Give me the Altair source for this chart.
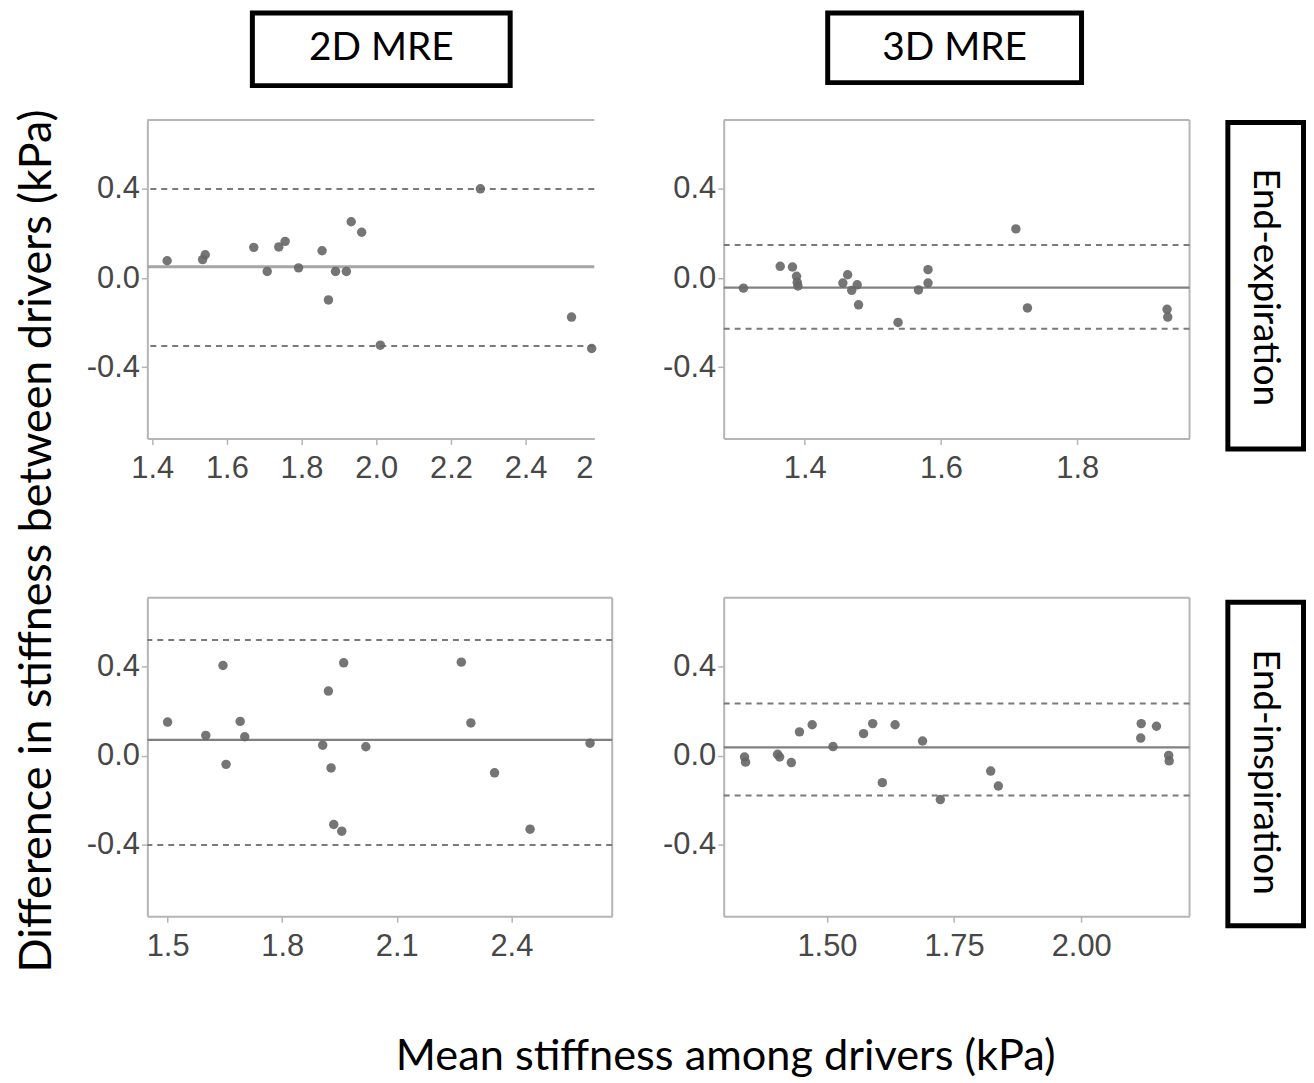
import altair as alt
import pandas as pd

# ---------------- data ----------------
# 2D MRE, End-expiration
tl_mean = [1.44, 1.535, 1.542, 1.672, 1.708, 1.739, 1.756, 1.792, 1.855, 1.872,
           1.891, 1.92, 1.933, 1.961, 2.011, 2.279, 2.523, 2.577]
tl_diff = [0.078, 0.083, 0.105, 0.138, 0.03, 0.14, 0.165, 0.046, 0.123, -0.098,
           0.03, 0.03, 0.253, 0.206, -0.301, 0.401, -0.175, -0.316]
tl_bias = [0.051]
tl_loa = [0.40, -0.305]

# 3D MRE, End-expiration
tr_mean = [1.310, 1.364, 1.382, 1.388, 1.389, 1.390, 1.456, 1.463, 1.469, 1.477,
           1.479, 1.537, 1.567, 1.581, 1.581, 1.710, 1.727, 1.932, 1.933]
tr_diff = [-0.045, 0.053, 0.05, 0.008, -0.019, -0.035, -0.022, 0.015, -0.055, -0.03,
           -0.12, -0.199, -0.053, 0.038, -0.022, 0.221, -0.134, -0.14, -0.175]
tr_bias = [-0.043]
tr_loa = [0.149, -0.227]

# 2D MRE, End-inspiration
bl_mean = [1.50, 1.60, 1.645, 1.653, 1.69, 1.702, 1.906, 1.921, 1.928, 1.935,
           1.956, 1.961, 2.019, 2.269, 2.294, 2.356, 2.449, 2.606]
bl_diff = [0.152, 0.092, 0.406, -0.038, 0.155, 0.086, 0.048, 0.291, -0.054, -0.308,
           -0.338, 0.418, 0.041, 0.421, 0.148, -0.076, -0.329, 0.057]
bl_bias = [0.072]
bl_loa = [0.52, -0.40]

# 3D MRE, End-inspiration
br_mean = [1.338, 1.340, 1.403, 1.407, 1.430, 1.446, 1.471, 1.512, 1.572, 1.590,
           1.609, 1.634, 1.688, 1.723, 1.822, 1.837, 2.117, 2.118, 2.148, 2.172, 2.173]
br_diff = [-0.005, -0.028, 0.007, -0.005, -0.03, 0.108, 0.14, 0.042, 0.1, 0.145,
           -0.12, 0.14, 0.067, -0.196, -0.068, -0.135, 0.08, 0.145, 0.133, 0.002, -0.022]
br_bias = [0.038]
br_loa = [0.235, -0.178]

# axes
tl_xdomain = [1.387, 2.584]
tr_xdomain = [1.281, 1.965]
bl_xdomain = [1.447, 2.664]
br_xdomain = [1.297, 2.213]
y_domain = [-0.72, 0.71]

tl_xticks = [1.4, 1.6, 1.8, 2.0, 2.2, 2.4, 2.557]
tl_xlabels = ["1.4", "1.6", "1.8", "2.0", "2.2", "2.4", "2"]
tr_xticks = [1.4, 1.6, 1.8]
tr_xlabels = ["1.4", "1.6", "1.8"]
bl_xticks = [1.5, 1.8, 2.1, 2.4]
bl_xlabels = ["1.5", "1.8", "2.1", "2.4"]
br_xticks = [1.5, 1.75, 2.0]
br_xlabels = ["1.50", "1.75", "2.00"]
y_ticks = [-0.4, 0.0, 0.4]
y_labels = ["-0.4", "0.0", "0.4"]

col_headers = ["2D MRE", "3D MRE"]
row_headers = ["End-expiration", "End-inspiration"]
y_title = "Difference in stiffness between drivers (kPa)"
x_title = "Mean stiffness among drivers (kPa)"

# ---------------- styling ----------------
PT = "#666666"
BORDER = "#b5b5b5"
LINE = "#808080"
DASH = "#7a7a7a"
TICKFONT = "Liberation Sans"
TITLEFONT = "Lato"


def label_expr(vals, labels):
    expr = "''"
    for v, l in reversed(list(zip(vals, labels))):
        expr = f"abs(datum.value - ({v})) < 1e-6 ? '{l}' : {expr}"
    return expr


def panel(mean, diff, bias, loa, xdomain, xticks, xlabels, width, height,
          bias_color=LINE, bias_width=2.2, right_border=True):
    pts = pd.DataFrame({"mean": mean, "diff": diff})
    xaxis = alt.Axis(values=xticks, labelExpr=label_expr(xticks, xlabels), title=None,
                     grid=False, domain=True, domainColor=BORDER, domainWidth=2,
                     tickColor=BORDER, tickSize=6, tickWidth=1.5,
                     labelFont=TICKFONT, labelFontSize=31, labelColor="#474747",
                     labelPadding=9, labelFlush=False, labelOverlap=False,
                     tickOpacity={"condition": {"test": "datum.value > 2.5", "value": 0},
                                  "value": 1})
    yaxis = alt.Axis(values=y_ticks, labelExpr=label_expr(y_ticks, y_labels), title=None,
                     grid=False, domain=True, domainColor=BORDER, domainWidth=2,
                     tickColor=BORDER, tickSize=6, tickWidth=1.5,
                     labelFont=TICKFONT, labelFontSize=31, labelColor="#474747",
                     labelPadding=2, labelFlush=False, labelOverlap=False)
    xs = alt.Scale(domain=xdomain, nice=False, zero=False)
    ys = alt.Scale(domain=y_domain, nice=False, zero=False)

    points = alt.Chart(pts).mark_circle(size=90, color=PT, opacity=0.9).encode(
        x=alt.X("mean:Q", scale=xs, axis=xaxis),
        y=alt.Y("diff:Q", scale=ys, axis=yaxis),
    )
    bias_rule = alt.Chart(pd.DataFrame({"v": bias})).mark_rule(
        color=bias_color, strokeWidth=bias_width).encode(y=alt.Y("v:Q", scale=ys))
    loa_rule = alt.Chart(pd.DataFrame({"v": loa})).mark_rule(
        color=DASH, strokeWidth=2, strokeDash=[6, 5]).encode(y=alt.Y("v:Q", scale=ys))
    top = alt.Chart(pd.DataFrame({"a": [0]})).mark_rule(color=BORDER, strokeWidth=2).encode(
        x=alt.value(0), x2=alt.value(width), y=alt.value(0))
    layers = [top, loa_rule, bias_rule, points]
    if right_border:
        right = alt.Chart(pd.DataFrame({"a": [0]})).mark_rule(color=BORDER, strokeWidth=2).encode(
            x=alt.value(width), y=alt.value(0), y2=alt.value(height))
        layers.insert(1, right)
    return layers


def box(x1, x2, y1, y2):
    return alt.Chart(pd.DataFrame({"a": [0]})).mark_rect(
        fill="white", fillOpacity=0, stroke="black", strokeWidth=5).encode(
        x=alt.value(x1), x2=alt.value(x2), y=alt.value(y1), y2=alt.value(y2))


def label(text, x, y, size, angle=0):
    kw = {} if angle == 0 else {"angle": angle}
    return alt.Chart(pd.DataFrame({"t": [text]})).mark_text(
        font=TITLEFONT, fontSize=size, color="black", align="center", baseline="middle", **kw
    ).encode(text="t:N", x=alt.value(x), y=alt.value(y))


W_L, W_TL, W_R, H = 467, 449, 468, 320

tl_layers = panel(tl_mean, tl_diff, tl_bias, tl_loa, tl_xdomain, tl_xticks, tl_xlabels,
                  W_TL, H, bias_color="#a6a6a6", bias_width=3.2, right_border=False)
tl_layers += [box(105.5, 364.5, -107.5, -34.5), label(col_headers[0], 235, -72, 39),
              label(y_title, -111, 423, 45, angle=270)]
tl = alt.layer(*tl_layers).properties(width=W_TL, height=H, view=alt.ViewBackground(stroke=None))

tr_layers = panel(tr_mean, tr_diff, tr_bias, tr_loa, tr_xdomain, tr_xticks, tr_xlabels, W_R, H)
tr_layers += [box(104.5, 359.5, -107.5, -37.5), label(col_headers[1], 232, -72, 39),
              box(506.5, 582.5, 2.5, 330.5), label(row_headers[0], 544, 168, 37, angle=90)]
tr = alt.layer(*tr_layers).properties(width=W_R, height=H, view=alt.ViewBackground(stroke=None))

bl_layers = panel(bl_mean, bl_diff, bl_bias, bl_loa, bl_xdomain, bl_xticks, bl_xlabels, W_L, H)
bl_layers += [label(x_title, 581, 461, 43.5)]
bl = alt.layer(*bl_layers).properties(width=W_L, height=H, view=alt.ViewBackground(stroke=None))

br_layers = panel(br_mean, br_diff, br_bias, br_loa, br_xdomain, br_xticks, br_xlabels, W_R, H)
br_layers += [box(506.5, 582.5, 4.5, 329.5), label(row_headers[1], 544, 175, 37, angle=90)]
br = alt.layer(*br_layers).properties(width=W_R, height=H, view=alt.ViewBackground(stroke=None))

chart = alt.concat(tl, tr, bl, br, columns=2, spacing={"row": 160, "column": 112},
                   bounds="flush",
                   padding={"left": 6, "top": 0, "right": 0, "bottom": 0}).configure_view(stroke=None)

chart.save("out.html", embed_options={"renderer": "svg", "actions": False})
